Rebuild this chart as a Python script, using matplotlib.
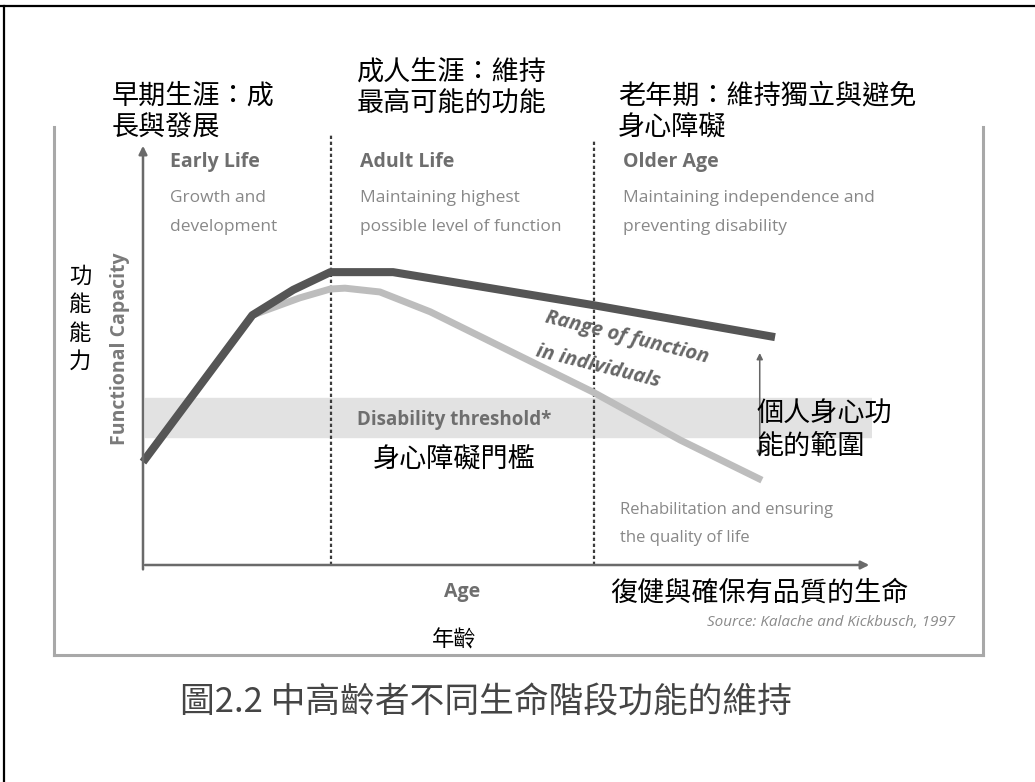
import matplotlib
matplotlib.use("Agg")
import matplotlib.pyplot as plt
from matplotlib.lines import Line2D

plt.rcParams['font.family'] = ['Noto Sans CJK TC', 'DejaVu Sans']

# age (0 = y axis, 100 = arrow end) and functional capacity (0 = x axis)
age_high = [0, 15.0, 20.6, 25.7, 34.3, 61.7, 86.7]
cap_high = [24.4, 59.2, 65.2, 69.4, 69.4, 61.6, 54.0]
age_low = [0, 15.0, 21.5, 25.7, 27.7, 32.5, 39.4, 61.7, 73.7, 84.9]
cap_low = [24.4, 59.2, 63.3, 65.4, 65.6, 64.7, 60.0, 41.0, 29.6, 20.1]
threshold_band = (30.3, 39.6)
stage_bounds = [25.8, 61.9]
stage_tops = [101.9, 100.7]
range_x = 84.6
range_span = (24.9, 50.9)

stage_titles = ["Early Life", "Adult Life", "Older Age"]
stage_subs = ["Growth and\ndevelopment",
              "Maintaining highest\npossible level of function",
              "Maintaining independence and\npreventing disability"]
stage_zh = ["早期生涯：成\n長與發展", "成人生涯：維持\n最高可能的功能", "老年期：維持獨立與避免\n身心障礙"]
rehab_note = "Rehabilitation and ensuring\nthe quality of life"

W, H = 1035, 782
fig = plt.figure(figsize=(W / 100, H / 100), dpi=100)


def fx(x):
    return x / W


def fy(y):
    return 1 - y / H


# outer black border and grey inner frame
for xs, ys, c, lw in [([4, 4], [6, 790], 'black', 1.6),
                      ([0, W], [6, 6], 'black', 1.6),
                      ([54, 54], [127, 655], '#a8a8a8', 2.2),
                      ([54, 983], [655, 655], '#a8a8a8', 2.2),
                      ([983, 983], [127, 655], '#a8a8a8', 2.2)]:
    fig.add_artist(Line2D([fx(v) for v in xs], [fy(v) for v in ys], color=c, lw=lw))

ax = fig.add_axes([fx(143), fy(565), (872 - 143) / W, (565 - 143) / H])
ax.set_xlim(0, 100)
ax.set_ylim(0, 100)
ax.axis('off')

ax.axhspan(threshold_band[0], threshold_band[1], xmin=0.003, xmax=1, color='#e2e2e2', zorder=1)

for b, t in zip(stage_bounds, stage_tops):
    ax.plot([b, b], [0, t], color='#3c3c3c', lw=1.6, ls=(0, (1.5, 1.2)), clip_on=False, zorder=3)

ax.plot(age_low, cap_low, color='#bdbdbd', lw=5, solid_capstyle='butt', zorder=4, clip_on=False)
ax.plot(age_high, cap_high, color='#555555', lw=5.8, solid_capstyle='butt', zorder=5, clip_on=False)

# axes with arrows
ax.annotate('', xy=(0, 100), xytext=(0, -1.7),
            arrowprops=dict(arrowstyle='-|>', color='#6a6a6a', lw=1.8, mutation_scale=12), zorder=6)
ax.annotate('', xy=(100, 0), xytext=(-0.1, 0),
            arrowprops=dict(arrowstyle='-|>', color='#6a6a6a', lw=1.8, mutation_scale=12), zorder=6)
ax.annotate('', xy=(range_x, range_span[1]), xytext=(range_x, range_span[0]),
            arrowprops=dict(arrowstyle='<|-|>', color='#666666', lw=1.1, mutation_scale=9), zorder=6)

en = 'Open Sans'

# stage headers
for x, title, sub in zip([170, 360, 623], stage_titles, stage_subs):
    fig.text(fx(x), fy(162), title, family=en, fontsize=14, fontweight='bold',
             color='#6e6e6e', va='center', ha='left')
    for i, line in enumerate(sub.split('\n')):
        fig.text(fx(x), fy(198 + 29 * i), line, family=en, fontsize=12.5, color='#888888',
                 va='center', ha='left')

for (x, y), txt in zip([(112, 112), (357, 88), (618, 112)], stage_zh):
    fig.text(fx(x), fy(y), txt, fontsize=19.5, color='black', va='center',
             ha='left', linespacing=1.25)

fig.text(fx(120), fy(349), 'Functional Capacity', family=en, fontsize=14, fontweight='bold',
         color='#7a7a7a', rotation=90, va='center', ha='center')
fig.text(fx(80), fy(319), '功\n能\n能\n力', fontsize=16, color='black', va='center',
         ha='center', linespacing=1.3)

fig.text(fx(357), fy(420), 'Disability threshold*', family=en, fontsize=13.5, fontweight='bold',
         color='#6e6e6e', va='center', ha='left')
fig.text(fx(373), fy(460), '身心障礙門檻', fontsize=19.5, color='black', va='center', ha='left')

fig.text(fx(627), fy(338), 'Range of function', family=en, fontsize=14.5, fontweight='bold',
         style='italic', color='#666666', rotation=-14, va='center', ha='center',
         rotation_mode='anchor')
fig.text(fx(598), fy(367), 'in individuals', family=en, fontsize=14.5, fontweight='bold',
         style='italic', color='#666666', rotation=-14, va='center', ha='center',
         rotation_mode='anchor')

fig.text(fx(757), fy(430), '個人身心功\n能的範圍', fontsize=19.5, color='black',
         va='center', ha='left', linespacing=1.25)

for i, line in enumerate(rehab_note.split('\n')):
    fig.text(fx(620), fy(510 + 28 * i), line, family=en, fontsize=12, color='#888888',
             va='center', ha='left')

fig.text(fx(462), fy(592), 'Age', family=en, fontsize=14, fontweight='bold',
         color='#6e6e6e', va='center', ha='center')
fig.text(fx(454), fy(640), '年齡', fontsize=16, color='black', va='center', ha='center')
fig.text(fx(610), fy(593), '復健與確保有品質的生命', fontsize=19.5, color='black',
         va='center', ha='left')
fig.text(fx(955), fy(623), 'Source: Kalache and Kickbusch, 1997', family=en, fontsize=11,
         style='italic', color='#8a8a8a', va='center', ha='right')

fig.text(fx(486), fy(703), '圖2.2 中高齡者不同生命階段功能的維持', fontsize=25,
         color='#454545', va='center', ha='center', fontweight='light')

fig.savefig('out.png', dpi=100)
